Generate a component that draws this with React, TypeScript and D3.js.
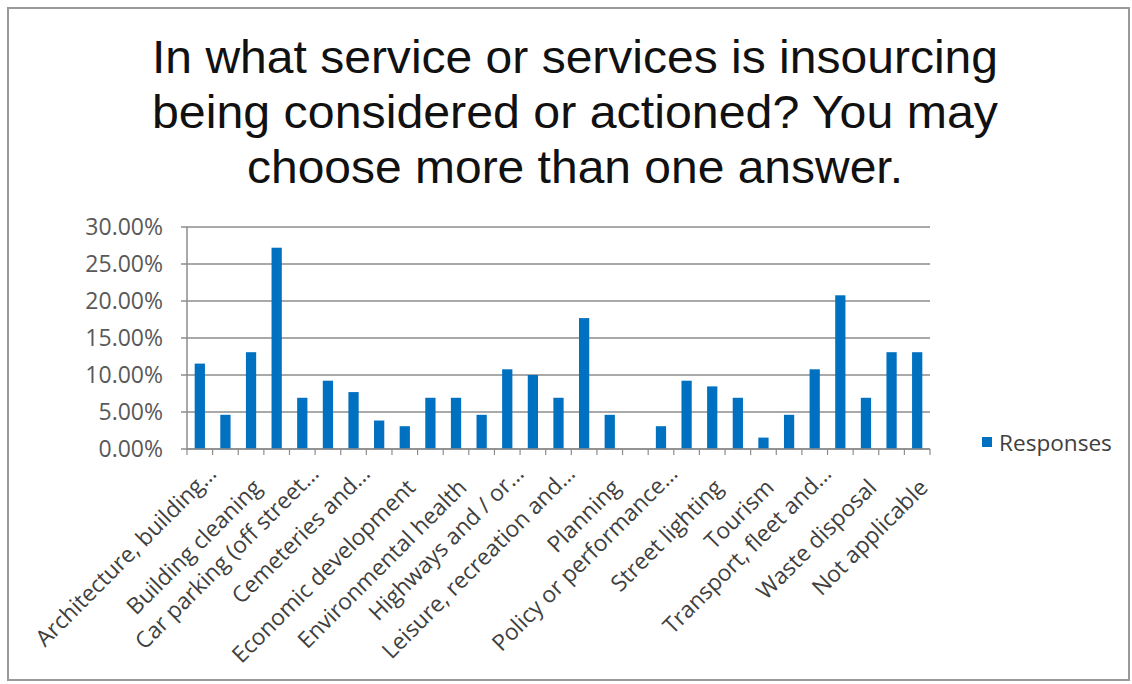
import React from "react";
import * as d3 from "d3";

const titleLines = [
  "In what service or services is insourcing",
  "being considered or actioned? You may",
  "choose more than one answer.",
];

// 29 categories; Excel only shows every other label (hidden ones left blank)
const categories = [
  "Architecture, building…", "", "Building cleaning", "", "Car parking (off street…", "",
  "Cemeteries and…", "", "Economic development", "", "Environmental health", "",
  "Highways and / or…", "", "Leisure, recreation and…", "", "Planning", "",
  "Policy or performance…", "", "Street lighting", "", "Tourism", "",
  "Transport, fleet and…", "", "Waste disposal", "", "Not applicable",
];

const responses = [
  11.54, 4.62, 13.08, 27.2, 6.92, 9.23, 7.69, 3.85, 3.08, 6.92,
  6.92, 4.62, 10.77, 10.0, 6.92, 17.69, 4.62, 0, 3.08, 9.23,
  8.46, 6.92, 1.54, 4.62, 10.77, 20.77, 6.92, 13.08, 13.08,
];

const yTicks = [0, 5, 10, 15, 20, 25, 30];
const seriesName = "Responses";

const W = 1132;
const H = 684;
const plotLeft = 187;
const plotRight = 930;
const plotTop = 227;
const plotBottom = 449;
const barColor = "#0070C0";
const gridColor = "#8c8c8c";
const font = "'Open Sans', sans-serif";

export default function App() {
  const idx = categories.map((_, i) => i);
  const x = d3.scaleBand<number>().domain(idx).range([plotLeft, plotRight]).padding(0);
  const y = d3.scaleLinear().domain([0, 30]).range([plotBottom, plotTop]);
  const bw = x.bandwidth();
  const barW = bw * 0.4;
  const fmt = (v: number) => d3.format(".2f")(v) + "%";
  const boundaries = d3.range(categories.length + 1).map((k) => plotLeft + k * bw);

  return (
    <svg
      width={W}
      height={H}
      style={{ position: "absolute", left: 0, top: 0, background: "#fff" }}
    >
      <rect x={8} y={8} width={1121} height={672} fill="#fff" stroke="#9a9a9a" strokeWidth={2} />

      {titleLines.map((t, i) => (
        <text
          key={i}
          x={575}
          y={73 + i * 55}
          textAnchor="middle"
          fontFamily="'Liberation Sans', Arial, sans-serif"
          fontSize={46}
          fill="#111"
          textLength={i === 2 ? 656 : 846}
          lengthAdjust="spacingAndGlyphs"
        >
          {t}
        </text>
      ))}

      {/* gridlines */}
      {yTicks.map((t) => (
        <line
          key={"g" + t}
          x1={plotLeft - 6}
          x2={plotRight}
          y1={y(t)}
          y2={y(t)}
          stroke={gridColor}
          strokeWidth={1.5}
        />
      ))}
      {/* y axis */}
      <line x1={plotLeft} x2={plotLeft} y1={plotTop} y2={plotBottom} stroke={gridColor} strokeWidth={1.5} />
      {yTicks.map((t) => (
        <text
          key={"yl" + t}
          x={163}
          y={y(t)}
          dy="0.36em"
          textAnchor="end"
          fontFamily={font}
          fontSize={23}
          fill="#595959"
        >
          {fmt(t)}
        </text>
      ))}

      {/* bars */}
      {responses.map((v, i) => (
        <rect
          key={"b" + i}
          x={(x(i) as number) + (bw - barW) / 2}
          y={y(v)}
          width={barW}
          height={plotBottom - y(v)}
          fill={barColor}
        />
      ))}

      {/* x axis */}
      <line x1={plotLeft} x2={plotRight} y1={plotBottom} y2={plotBottom} stroke={gridColor} strokeWidth={1.5} />
      {boundaries.map((bx, k) => (
        <line key={"xt" + k} x1={bx} x2={bx} y1={plotBottom} y2={plotBottom + 6} stroke={gridColor} strokeWidth={1.2} />
      ))}
      {categories.map((c, i) => {
        if (!c) return null;
        const cx = (x(i) as number) + bw / 2;
        const ell = c.endsWith("…");
        const bx = cx + (ell ? 18 : 12);
        const by = ell ? 475 : 489;
        return (
          <text
            key={"xl" + i}
            transform={`translate(${bx},${by}) rotate(-45)`}
            textAnchor="end"
            fontFamily={font}
            fontSize={22.7}
            fill="#404040"
          >
            {c}
          </text>
        );
      })}

      {/* legend */}
      <rect x={982} y={437} width={10} height={10} fill={barColor} />
      <text x={999} y={451} fontFamily={font} fontSize={22.6} fill="#404040">
        {seriesName}
      </text>
    </svg>
  );
}
